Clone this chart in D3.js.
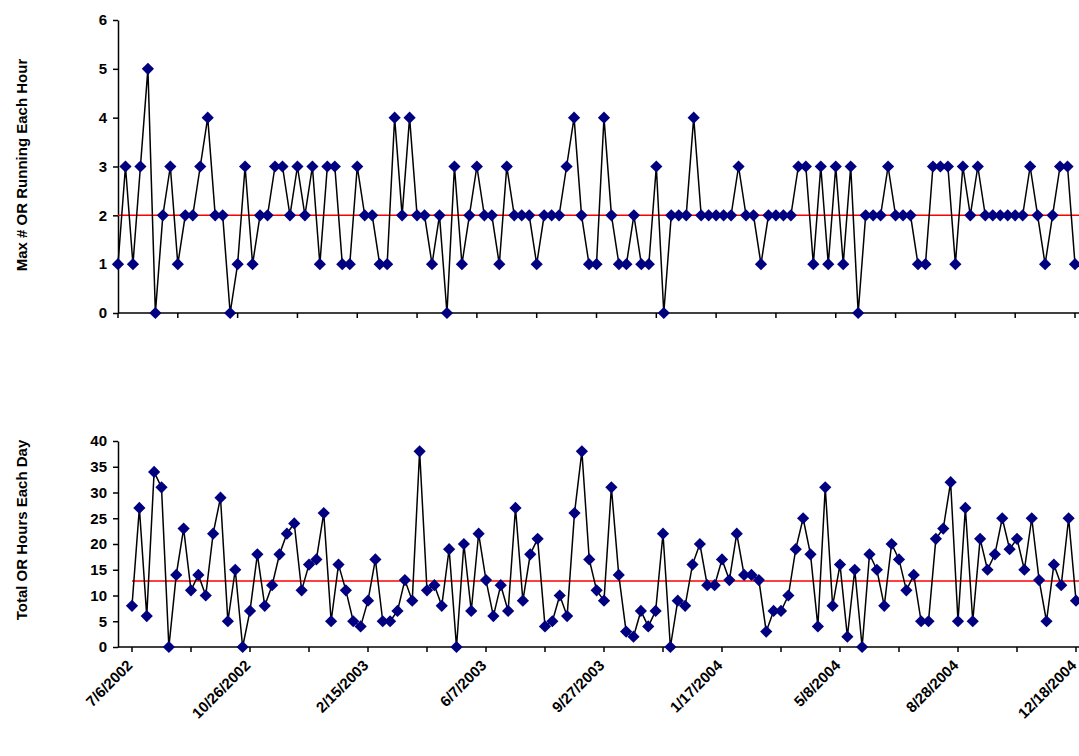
<!doctype html>
<html>
<head>
<meta charset='utf-8'>
<style>
body { margin:0; background:#fff; }
text { font-family: Arial, 'Liberation Sans', sans-serif; font-weight:bold; }
</style>
</head>
<body>
<div id='chart'></div>
<script src='https://cdn.jsdelivr.net/npm/d3@7/dist/d3.min.js'></script>
<script>

// weekly values, 7/6/2002 .. 12/18/2004
const maxRunning = [
  1,3,1,3,5,0,2,3,1,2,2,3,4,2,2,0,1,3,1,2,2,3,3,2,3,2,3,1,3,3,1,1,3,
  2,2,1,1,4,2,4,2,2,1,2,0,3,1,2,3,2,2,1,3,2,2,2,1,2,2,2,3,4,2,1,1,
  4,2,1,1,2,1,1,3,0,2,2,2,4,2,2,2,2,2,3,2,2,1,2,2,2,2,3,3,1,3,1,3,
  1,3,0,2,2,2,3,2,2,2,1,1,3,3,3,1,3,2,3,2,2,2,2,2,2,3,2,1,2,3,3,1];
const totalHours = [
  8,27,6,34,31,0,14,23,11,14,10,22,29,5,15,0,7,18,8,12,18,22,24,11,16,17,26,5,16,11,5,4,
  9,17,5,5,7,13,9,38,11,12,8,19,0,20,7,22,13,6,12,7,27,9,18,21,4,5,10,6,26,38,17,11,
  9,31,14,3,2,7,4,7,22,0,9,8,16,20,12,12,17,13,22,14,14,13,3,7,7,10,19,25,18,4,31,8,
  16,2,15,0,18,15,8,20,17,11,14,5,5,21,23,32,5,27,5,21,15,18,25,19,21,15,25,13,5,16,12,25,9];
const dateLabels = ['7/6/2002','10/26/2002','2/15/2003','6/7/2003','9/27/2003',
  '1/17/2004','5/8/2004','8/28/2004','12/18/2004'];
const topMean = 2;
const bottomMean = 12.8;

const W = 1079, H = 756;
const svg = d3.select('#chart').append('svg').attr('width', W).attr('height', H);
const n = maxRunning.length;
const tickIdx = d3.range(0, n, 8);
const diamond = d3.symbol().type(d3.symbolDiamond2).size(95);

function panel(values, mean, xr, axisX, yr, yDomain, yStep, title, titleY, labels){
  const x = d3.scaleLinear().domain([0, n - 1]).range(xr);
  const y = d3.scaleLinear().domain(yDomain).range(yr);
  const g = svg.append('g');

  // y axis
  g.append('g').attr('transform', `translate(${axisX},0)`)
    .call(d3.axisLeft(y).tickValues(d3.range(yDomain[0], yDomain[1] + 1, yStep))
      .tickFormat(d3.format('d')).tickSize(5).tickSizeOuter(0).tickPadding(6))
    .call(a => a.selectAll('text').style('font-size', '15px'))
    .call(a => a.selectAll('line,path').attr('stroke', '#000').attr('stroke-width', 1.5));

  // x axis line and ticks
  g.append('line').attr('x1', axisX).attr('x2', W).attr('y1', yr[0]).attr('y2', yr[0])
    .attr('stroke', '#000').attr('stroke-width', 1.5);
  g.selectAll('.xt').data(tickIdx).enter().append('line')
    .attr('x1', d => x(d)).attr('x2', d => x(d))
    .attr('y1', yr[0]).attr('y2', yr[0] + 5)
    .attr('stroke', '#000').attr('stroke-width', 1.5);

  if (labels) {
    g.selectAll('.xl').data(labels).enter().append('text')
      .attr('transform', (d, i) => `translate(${x(i * 16) - 6},${yr[0] + 12}) rotate(-45)`)
      .attr('text-anchor', 'end').attr('dy', '0.7em')
      .style('font-size', '15px').text(d => d);
  }

  // mean line
  g.append('line').attr('x1', xr[0]).attr('x2', W).attr('y1', y(mean)).attr('y2', y(mean))
    .attr('stroke', '#ff0000').attr('stroke-width', 1.5);

  g.append('path').datum(values)
    .attr('d', d3.line().x((d, i) => x(i)).y(d => y(d)))
    .attr('fill', 'none').attr('stroke', '#000').attr('stroke-width', 1.5);

  g.selectAll('.pt').data(values).enter().append('path')
    .attr('d', diamond)
    .attr('transform', (d, i) => `translate(${x(i)},${y(d)})`)
    .attr('fill', '#000080');

  svg.append('text')
    .attr('transform', `translate(27,${titleY}) rotate(-90)`)
    .attr('text-anchor', 'middle').style('font-size', '15px').text(title);
}

panel(maxRunning, topMean, [118, 1075], 118, [313, 20], [0, 6], 1,
  'Max # OR Running Each Hour', 165, null);
panel(totalHours, bottomMean, [132, 1076], 118, [647, 441], [0, 40], 5,
  'Total OR Hours Each Day', 530, dateLabels);

</script>
</body>
</html>
